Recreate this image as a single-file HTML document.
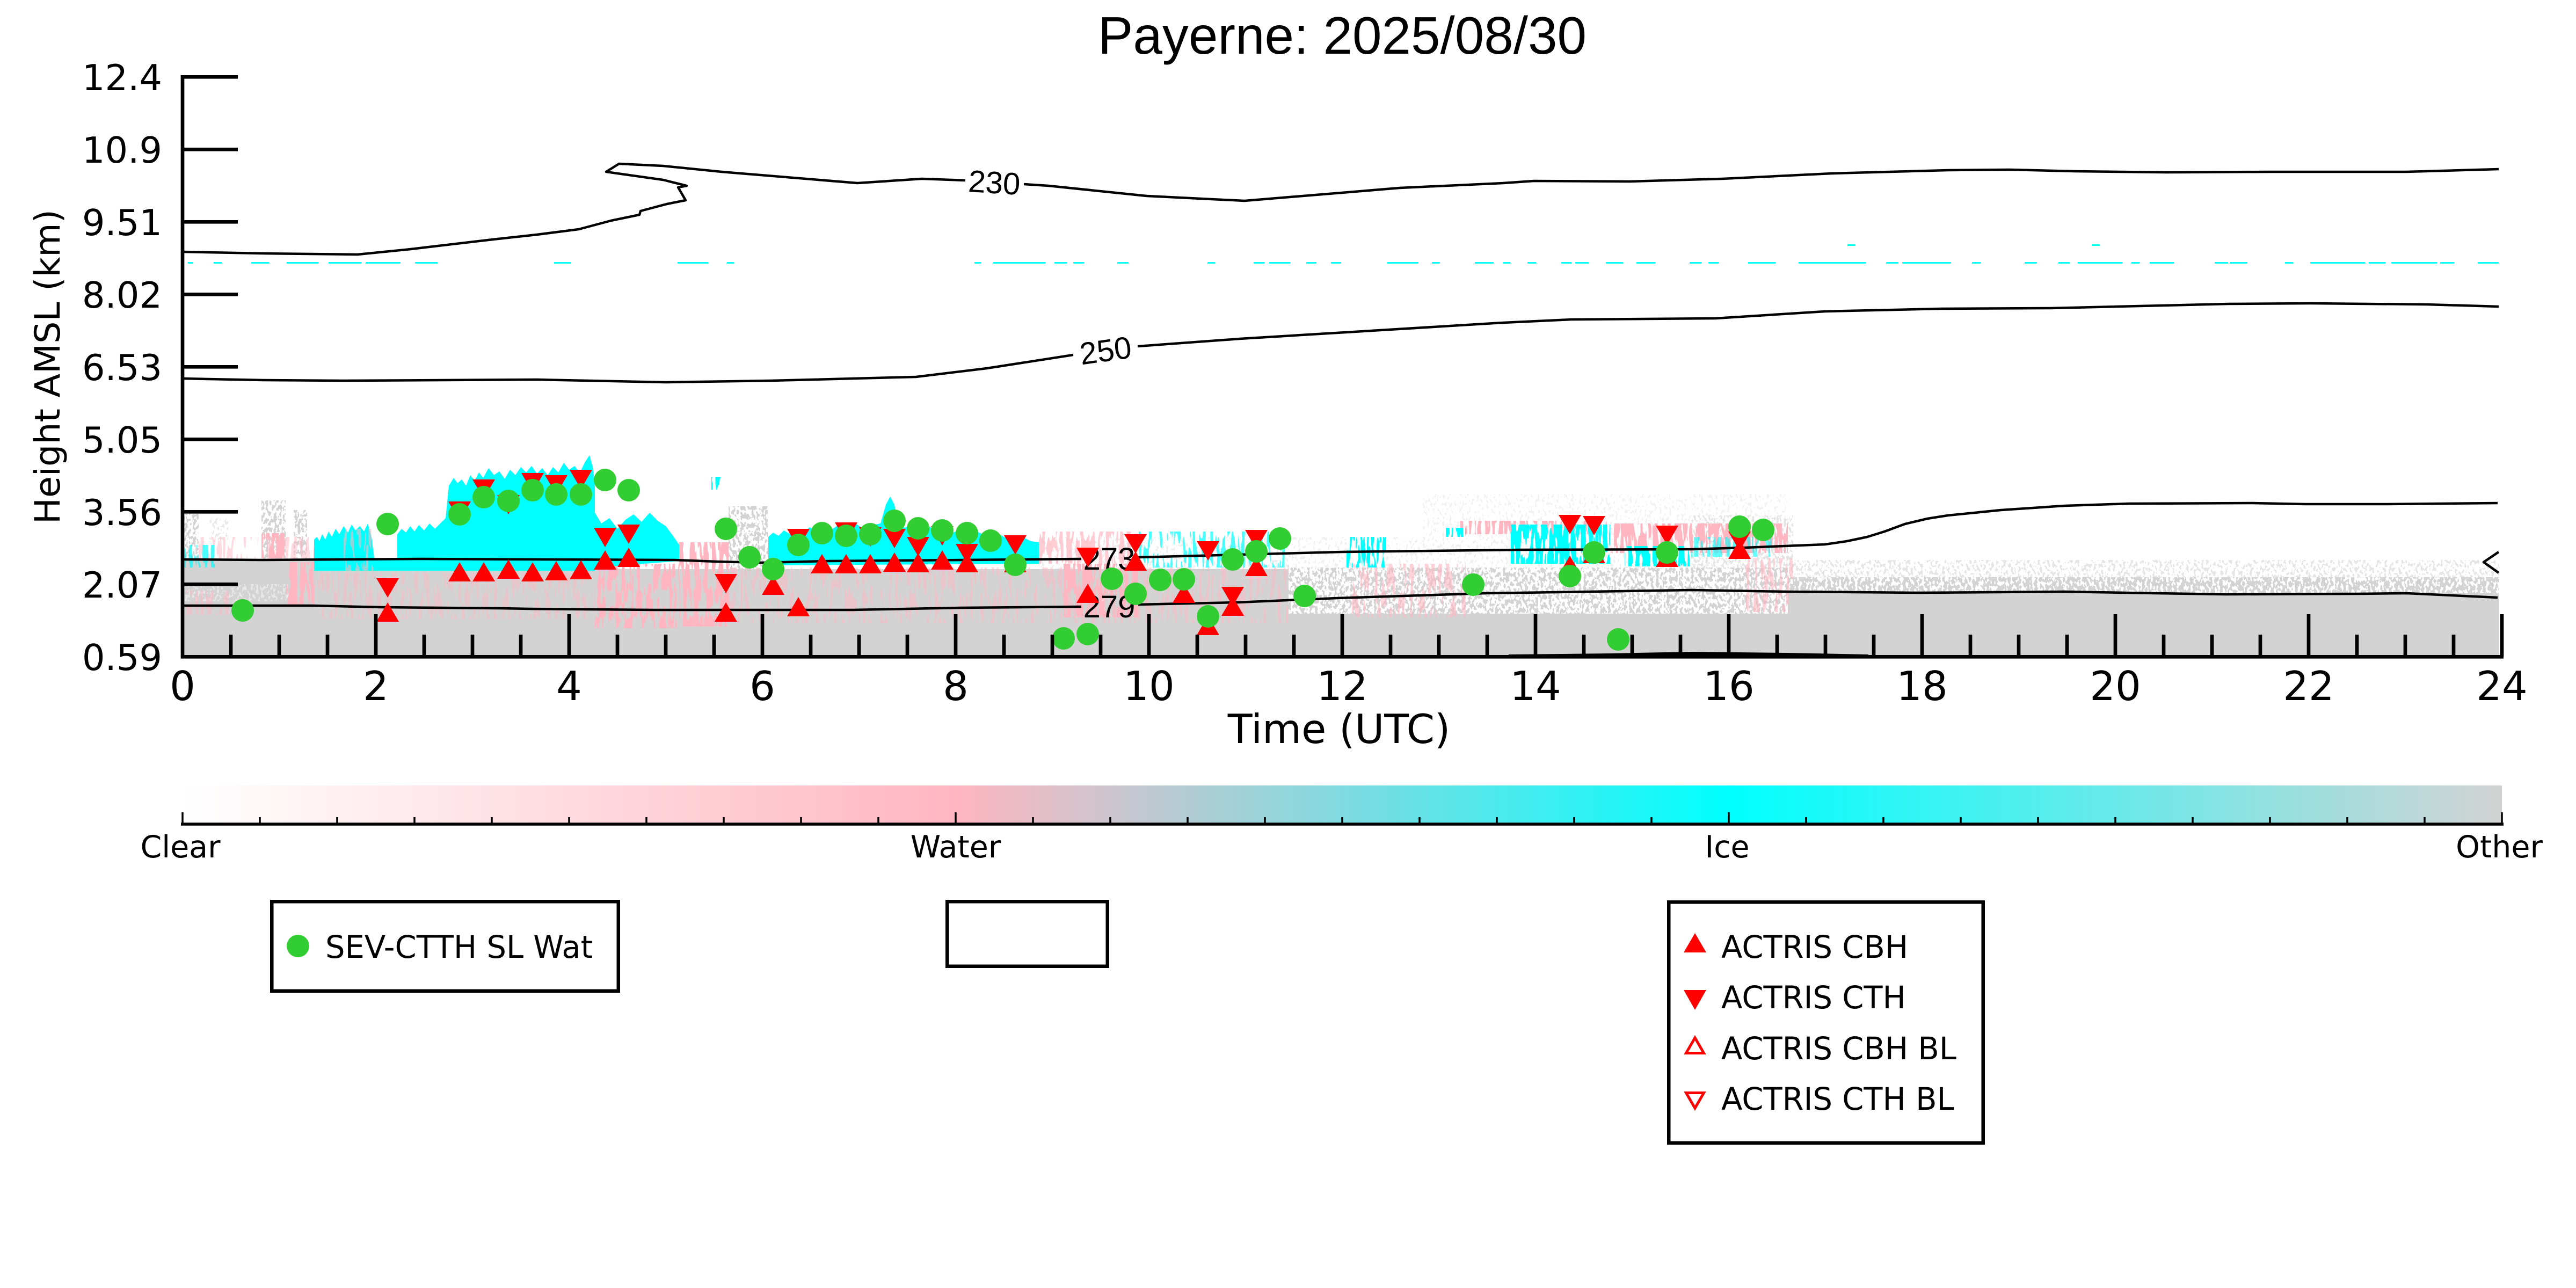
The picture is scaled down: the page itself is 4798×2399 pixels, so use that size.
<!DOCTYPE html>
<html><head><meta charset="utf-8"><title>Payerne: 2025/08/30</title>
<style>html,body{margin:0;padding:0;background:#fff;}svg{display:block}</style></head>
<body>
<svg width="4798" height="2399" viewBox="0 0 4798 2399" xmlns="http://www.w3.org/2000/svg">
<defs>
<linearGradient id="cb" x1="0" x2="1" y1="0" y2="0">
<stop offset="0" stop-color="#ffffff"/><stop offset="0.3333" stop-color="#ffb6c1"/><stop offset="0.6667" stop-color="#00ffff"/><stop offset="1" stop-color="#d3d3d3"/>
</linearGradient>
<filter id="gA" x="0" y="0" width="1" height="1" color-interpolation-filters="sRGB"><feTurbulence type="fractalNoise" baseFrequency="0.2 0.12" numOctaves="2" seed="3"/><feColorMatrix type="matrix" values="0 0 0 0 0 0 0 0 0 0 0 0 0 0 0 40 0 0 0 -18"/><feComposite in="SourceGraphic" operator="in"/></filter>
<filter id="gB" x="0" y="0" width="1" height="1" color-interpolation-filters="sRGB"><feTurbulence type="fractalNoise" baseFrequency="0.2 0.12" numOctaves="2" seed="11"/><feColorMatrix type="matrix" values="0 0 0 0 0 0 0 0 0 0 0 0 0 0 0 40 0 0 0 -20"/><feComposite in="SourceGraphic" operator="in"/></filter>
<filter id="gC" x="0" y="0" width="1" height="1" color-interpolation-filters="sRGB"><feTurbulence type="fractalNoise" baseFrequency="0.22 0.14" numOctaves="2" seed="21"/><feColorMatrix type="matrix" values="0 0 0 0 0 0 0 0 0 0 0 0 0 0 0 40 0 0 0 -22"/><feComposite in="SourceGraphic" operator="in"/></filter>
<filter id="gD" x="0" y="0" width="1" height="1" color-interpolation-filters="sRGB"><feTurbulence type="fractalNoise" baseFrequency="0.22 0.14" numOctaves="2" seed="29"/><feColorMatrix type="matrix" values="0 0 0 0 0 0 0 0 0 0 0 0 0 0 0 40 0 0 0 -24"/><feComposite in="SourceGraphic" operator="in"/></filter>
<filter id="sA" x="0" y="0" width="1" height="1" color-interpolation-filters="sRGB"><feTurbulence type="fractalNoise" baseFrequency="0.15 0.02" numOctaves="2" seed="17"/><feColorMatrix type="matrix" values="0 0 0 0 0 0 0 0 0 0 0 0 0 0 0 40 0 0 0 -16.8"/><feComposite in="SourceGraphic" operator="in"/></filter>
<filter id="sB" x="0" y="0" width="1" height="1" color-interpolation-filters="sRGB"><feTurbulence type="fractalNoise" baseFrequency="0.15 0.02" numOctaves="2" seed="13"/><feColorMatrix type="matrix" values="0 0 0 0 0 0 0 0 0 0 0 0 0 0 0 40 0 0 0 -18"/><feComposite in="SourceGraphic" operator="in"/></filter>
<filter id="sC" x="0" y="0" width="1" height="1" color-interpolation-filters="sRGB"><feTurbulence type="fractalNoise" baseFrequency="0.15 0.02" numOctaves="2" seed="8"/><feColorMatrix type="matrix" values="0 0 0 0 0 0 0 0 0 0 0 0 0 0 0 40 0 0 0 -20"/><feComposite in="SourceGraphic" operator="in"/></filter>
<filter id="sD" x="0" y="0" width="1" height="1" color-interpolation-filters="sRGB"><feTurbulence type="fractalNoise" baseFrequency="0.15 0.02" numOctaves="2" seed="5"/><feColorMatrix type="matrix" values="0 0 0 0 0 0 0 0 0 0 0 0 0 0 0 40 0 0 0 -21.2"/><feComposite in="SourceGraphic" operator="in"/></filter>
<filter id="sE" x="0" y="0" width="1" height="1" color-interpolation-filters="sRGB"><feTurbulence type="fractalNoise" baseFrequency="0.15 0.02" numOctaves="2" seed="31"/><feColorMatrix type="matrix" values="0 0 0 0 0 0 0 0 0 0 0 0 0 0 0 40 0 0 0 -22.4"/><feComposite in="SourceGraphic" operator="in"/></filter>
</defs>
<rect width="4798" height="2399" fill="#ffffff"/>

<!-- solid gray base -->
<polygon fill="#d3d3d3" points="340,1043 585,1043 585,1063 1108,1063 1108,1060 2400,1060 2400,1143 3330,1143 3330,1105 4655,1105 4655,1220 340,1220"/>
<rect x="340" y="1088" width="200" height="32" fill="#ffffff" fill-opacity="0.45" filter="url(#gC)"/>

<!-- mixed gray speckle -->
<g fill="#d3d3d3">
<rect x="2400" y="1057" width="930" height="86" filter="url(#gB)"/>
<rect x="3330" y="1075" width="1325" height="30" filter="url(#gA)"/>
<rect x="343" y="957" width="27" height="86" filter="url(#gB)"/>
<rect x="487" y="932" width="45" height="111" filter="url(#gB)"/>
<rect x="547" y="950" width="25" height="93" filter="url(#gB)"/>
<rect x="1357" y="943" width="73" height="117" filter="url(#gB)"/>
<rect x="3150" y="960" width="190" height="100" fill-opacity="0.6" filter="url(#gC)"/>
<rect x="390" y="965" width="35" height="40" fill-opacity="0.5" filter="url(#gC)"/>
<rect x="2650" y="920" width="680" height="80" fill-opacity="0.3" filter="url(#gD)"/>
<rect x="3330" y="1043" width="1325" height="32" fill-opacity="0.6" filter="url(#gC)"/>
<rect x="2400" y="1000" width="930" height="57" fill-opacity="0.35" filter="url(#gD)"/>
<rect x="1935" y="1000" width="465" height="60" fill-opacity="0.4" filter="url(#gD)"/>
</g>

<!-- pink streaks -->
<g fill="#ffb6c1">
<rect x="370" y="1000" width="215" height="45" fill-opacity="0.5" filter="url(#sD)"/>
<rect x="340" y="1100" width="90" height="45" fill-opacity="0.5" filter="url(#sD)"/>
<rect x="585" y="1067" width="523" height="86" fill-opacity="0.45" filter="url(#sD)"/>
<rect x="1357" y="1057" width="1043" height="103" fill-opacity="0.5" filter="url(#sE)"/>
<rect x="2518" y="1050" width="212" height="100" fill-opacity="0.6" filter="url(#sD)"/>
<rect x="2720" y="970" width="280" height="25" filter="url(#sC)"/>
<rect x="3250" y="1040" width="90" height="100" fill-opacity="0.6" filter="url(#sD)"/>
<rect x="487" y="993" width="43" height="47" filter="url(#sB)"/>
<rect x="533" y="1047" width="52" height="80" filter="url(#sB)"/>
<rect x="1265" y="1010" width="92" height="157" filter="url(#sB)"/>
<rect x="1981" y="1050" width="139" height="100" filter="url(#sB)"/>
<rect x="3000" y="975" width="330" height="55" filter="url(#sB)"/>
<rect x="1108" y="1050" width="157" height="120" filter="url(#sC)"/>
<rect x="1935" y="990" width="175" height="60" fill-opacity="0.7" filter="url(#sC)"/>
</g>

<!-- cyan -->
<g fill="#00ffff">
<rect x="343" y="1015" width="57" height="42" fill-opacity="0.7" filter="url(#sC)"/>
<polygon points="585,1063 585,1005 590,1000 595,1008 600,995 606,1005 612,990 618,1000 625,985 632,995 640,980 648,992 655,977 662,988 670,980 678,990 685,975 692,1000 697,1040 740,1040 740,995 748,985 756,992 764,980 772,990 780,978 790,988 800,975 810,985 820,975 830,965 836,905 845,890 852,900 860,893 868,905 876,885 884,895 892,880 900,890 910,872 920,885 930,878 940,892 950,875 960,885 970,870 980,880 990,868 1000,882 1010,872 1020,885 1030,870 1040,880 1050,862 1060,875 1070,868 1080,880 1090,860 1098,848 1104,870 1108,900 1108,955 1120,975 1135,965 1150,985 1165,968 1180,958 1195,972 1210,955 1225,970 1240,980 1255,1000 1265,1015 1265,1045 1108,1057 1108,1063"/>
<rect x="1325" y="888" width="18" height="24" filter="url(#sB)"/>
<polygon points="1431,1053 1431,1000 1440,992 1450,998 1460,988 1472,995 1484,985 1496,992 1508,982 1520,990 1535,978 1550,986 1565,975 1580,984 1595,976 1610,986 1625,978 1640,975 1650,940 1658,925 1666,940 1672,975 1685,983 1700,976 1715,985 1730,980 1745,990 1760,983 1775,992 1790,986 1805,995 1820,990 1840,1000 1860,995 1880,1005 1900,998 1920,1008 1935,1010 1935,1050"/>
<rect x="2120" y="990" width="280" height="67" fill-opacity="0.7" filter="url(#sD)"/>
<rect x="2508" y="1000" width="74" height="57" filter="url(#sC)"/>
<rect x="2693" y="983" width="37" height="17" filter="url(#sC)"/>
<rect x="2814" y="977" width="185" height="73" filter="url(#sA)"/>
<rect x="3026" y="1017" width="121" height="38" filter="url(#sB)"/>
<rect x="3150" y="1000" width="150" height="37" fill-opacity="0.6" filter="url(#sD)"/>
</g>
<rect x="640" y="985" width="55" height="78" fill="#ffb6c1" fill-opacity="0.6" filter="url(#sD)"/>

<!-- cyan dashes high cloud -->
<path fill="none" stroke="#00ffff" stroke-width="3" d="M350 489.5H360M398 489.5H413M468 489.5H501M534 489.5H593M612 489.5H673M681 489.5H746M773 489.5H815M1032 489.5H1064M1262 489.5H1319M1354 489.5H1367M1815 489.5H1827M1850 489.5H1947M1964 489.5H1987M1999 489.5H2019M2081 489.5H2102M2249 489.5H2263M2335 489.5H2355M2364 489.5H2403M2433 489.5H2452M2479 489.5H2498M2584 489.5H2642M2667 489.5H2682M2747 489.5H2782M2800 489.5H2813M2845 489.5H2861M2908 489.5H2927M2934 489.5H2959M2991 489.5H3023M3048 489.5H3083M3147 489.5H3169M3182 489.5H3201M3256 489.5H3307M3350 489.5H3475M3513 489.5H3536M3543 489.5H3634M3673 489.5H3689M3771 489.5H3794M3834 489.5H3855M3870 489.5H3953M3970 489.5H3985M4004 489.5H4049M4125 489.5H4150M4153 489.5H4186M4256 489.5H4271M4303 489.5H4405M4412 489.5H4443M4454 489.5H4539M4545 489.5H4571M4615 489.5H4654M3441 456.5H3456M3896 456.5H3911"/>

<!-- contours -->
<g fill="none" stroke="#000" stroke-width="4.5" stroke-linejoin="round">
<polyline points="340,469 490,472 666,474 765,464 918,446 1000,437 1078,427 1138,411 1191,400 1193,393 1242,380 1277,373 1263,349 1279,346 1235,335 1129,320 1153,305 1235,309 1344,320 1597,341 1717,333 1798,336"/>
<polyline points="1907,343 1953,346 2136,365 2318,374 2607,350 2800,341 2857,337 3036,338 3208,333 3412,323 3628,317 3743,316 3864,319 4036,321 4227,320 4482,320 4654,315"/>
<polyline points="340,705 490,708 643,709 1000,707 1241,712 1436,709 1706,702 1838,686 1999,661"/>
<polyline points="2119,645 2309,631 2800,601 2927,595 3195,593 3399,580 3615,575 3819,574 4151,566 4303,565 4520,567 4654,571"/>
<polyline points="340,1042 488,1043 784,1041 1256,1043 1335,1046 1422,1048 1542,1045 1790,1043 2014,1041"/>
<polyline points="2120,1038 2499,1028 2832,1024 3150,1023 3250,1020 3399,1014 3440,1008 3478,1000 3510,990 3548,976 3590,966 3628,960 3727,950 3846,942 3966,938 4195,937 4294,939 4443,939 4652,937"/>
<polyline points="340,1128 580,1128 710,1131 932,1133 987,1134 1218,1136 1588,1136 1790,1132 2014,1130"/>
<polyline points="2120,1126 2305,1122 2490,1114 2767,1105 3150,1099 3329,1102 3578,1104 3846,1102 4016,1105 4145,1107 4394,1106 4483,1105 4652,1113"/>
<polyline points="4654,1028 4626,1047 4654,1067"/>
<polyline stroke-width="6" points="2810,1222 3000,1220 3150,1217 3330,1219 3480,1222"/>
</g>
<g font-family="'Liberation Sans', Arial, sans-serif" font-size="58" fill="#000" text-anchor="middle">
<text x="1852" y="360" transform="rotate(3.5 1852 340)">230</text>
<text x="2059" y="673" transform="rotate(-8 2059 652)">250</text>
<text x="2066" y="1061">273</text>
<text x="2066" y="1150">279</text>
</g>

<!-- markers: triangles -->
<g fill="#ff0000">
<polygon points="722,1122 701,1158 743,1158"/><polygon points="856,1047 835,1083 877,1083"/><polygon points="901,1047 880,1083 922,1083"/><polygon points="947,1042 926,1078 968,1078"/><polygon points="992,1047 971,1083 1013,1083"/><polygon points="1036,1045 1015,1081 1057,1081"/><polygon points="1082,1043 1061,1079 1103,1079"/><polygon points="1127,1025 1106,1061 1148,1061"/><polygon points="1171,1020 1150,1056 1192,1056"/><polygon points="1352,1122 1331,1158 1373,1158"/><polygon points="1440,1072 1419,1108 1461,1108"/><polygon points="1487,1112 1466,1148 1508,1148"/><polygon points="1531,1032 1510,1068 1552,1068"/><polygon points="1576,1032 1555,1068 1597,1068"/><polygon points="1621,1032 1600,1068 1642,1068"/><polygon points="1666,1029 1645,1065 1687,1065"/><polygon points="1710,1030 1689,1066 1731,1066"/><polygon points="1755,1025 1734,1061 1776,1061"/><polygon points="1801,1030 1780,1066 1822,1066"/><polygon points="1891,1030 1870,1066 1912,1066"/><polygon points="2026,1087 2005,1123 2047,1123"/><polygon points="2115,1027 2094,1063 2136,1063"/><polygon points="2205,1087 2184,1123 2226,1123"/><polygon points="2250,1147 2229,1183 2271,1183"/><polygon points="2296,1111 2275,1147 2317,1147"/><polygon points="2340,1037 2319,1073 2361,1073"/><polygon points="2924,1035 2903,1071 2945,1071"/><polygon points="2969,1013 2948,1049 2990,1049"/><polygon points="3105,1020 3084,1056 3126,1056"/><polygon points="3240,1005 3219,1041 3261,1041"/>
<polygon points="701,1077 743,1077 722,1113"/><polygon points="835,934 877,934 856,970"/><polygon points="880,893 922,893 901,929"/><polygon points="926,922 968,922 947,958"/><polygon points="971,881 1013,881 992,917"/><polygon points="1015,885 1057,885 1036,921"/><polygon points="1061,875 1103,875 1082,911"/><polygon points="1106,983 1148,983 1127,1019"/><polygon points="1150,977 1192,977 1171,1013"/><polygon points="1331,1069 1373,1069 1352,1105"/><polygon points="1466,985 1508,985 1487,1021"/><polygon points="1555,973 1597,973 1576,1009"/><polygon points="1600,982 1642,982 1621,1018"/><polygon points="1645,985 1687,985 1666,1021"/><polygon points="1689,1000 1731,1000 1710,1036"/><polygon points="1734,980 1776,980 1755,1016"/><polygon points="1780,1013 1822,1013 1801,1049"/><polygon points="1870,997 1912,997 1891,1033"/><polygon points="2005,1020 2047,1020 2026,1056"/><polygon points="2094,995 2136,995 2115,1031"/><polygon points="2229,1008 2271,1008 2250,1044"/><polygon points="2275,1093 2317,1093 2296,1129"/><polygon points="2319,987 2361,987 2340,1023"/><polygon points="2903,959 2945,959 2924,995"/><polygon points="2948,961 2990,961 2969,997"/><polygon points="3084,979 3126,979 3105,1015"/><polygon points="3219,990 3261,990 3240,1026"/>
</g>
<!-- circles -->
<g fill="#32cd32">
<circle cx="452" cy="1137" r="21"/><circle cx="722" cy="976" r="21"/><circle cx="856" cy="958" r="21"/><circle cx="901" cy="926" r="21"/><circle cx="947" cy="933" r="21"/><circle cx="992" cy="913" r="21"/><circle cx="1036" cy="921" r="21"/><circle cx="1082" cy="921" r="21"/><circle cx="1127" cy="894" r="21"/><circle cx="1171" cy="913" r="21"/><circle cx="1352" cy="985" r="21"/><circle cx="1396" cy="1038" r="21"/><circle cx="1440" cy="1060" r="21"/><circle cx="1487" cy="1015" r="21"/><circle cx="1531" cy="993" r="21"/><circle cx="1576" cy="998" r="21"/><circle cx="1621" cy="995" r="21"/><circle cx="1666" cy="970" r="21"/><circle cx="1710" cy="984" r="21"/><circle cx="1755" cy="988" r="21"/><circle cx="1801" cy="993" r="21"/><circle cx="1845" cy="1007" r="21"/><circle cx="1891" cy="1052" r="21"/><circle cx="1981" cy="1189" r="21"/><circle cx="2026" cy="1181" r="21"/><circle cx="2071" cy="1078" r="21"/><circle cx="2115" cy="1106" r="21"/><circle cx="2161" cy="1080" r="21"/><circle cx="2205" cy="1079" r="21"/><circle cx="2250" cy="1148" r="21"/><circle cx="2296" cy="1042" r="21"/><circle cx="2340" cy="1027" r="21"/><circle cx="2384" cy="1003" r="21"/><circle cx="2430" cy="1110" r="21"/><circle cx="2744" cy="1089" r="21"/><circle cx="2924" cy="1073" r="21"/><circle cx="2969" cy="1029" r="21"/><circle cx="3014" cy="1191" r="21"/><circle cx="3105" cy="1029" r="21"/><circle cx="3240" cy="981" r="21"/><circle cx="3284" cy="987" r="21"/>
</g>

<!-- axes -->
<g stroke="#000" fill="none">
<path stroke-width="6.7" d="M340 140V1226.6M336.7 1223.3H4663"/>
<path stroke-width="6.7" d="M340 143.3H443M340 278.3H443M340 413.3H443M340 548.3H443M340 683.3H443M340 818.3H443M340 953.3H443M340 1088.3H443"/>
<path stroke-width="6.7" d="M700 1223V1144M1060 1223V1144M1420 1223V1144M1780 1223V1144M2140 1223V1144M2500 1223V1144M2860 1223V1144M3220 1223V1144M3580 1223V1144M3940 1223V1144M4300 1223V1144M4660 1223V1144"/>
<path stroke-width="6.7" d="M430 1223V1182M520 1223V1182M610 1223V1182M790 1223V1182M880 1223V1182M970 1223V1182M1150 1223V1182M1240 1223V1182M1330 1223V1182M1510 1223V1182M1600 1223V1182M1690 1223V1182M1870 1223V1182M1960 1223V1182M2050 1223V1182M2230 1223V1182M2320 1223V1182M2410 1223V1182M2590 1223V1182M2680 1223V1182M2770 1223V1182M2950 1223V1182M3040 1223V1182M3130 1223V1182M3310 1223V1182M3400 1223V1182M3490 1223V1182M3670 1223V1182M3760 1223V1182M3850 1223V1182M4030 1223V1182M4120 1223V1182M4210 1223V1182M4390 1223V1182M4480 1223V1182M4570 1223V1182"/>
</g>
<g font-family="'DejaVu Sans', sans-serif" font-size="67" fill="#000" text-anchor="end">
<text x="302" y="167.8">12.4</text><text x="302" y="302.8">10.9</text><text x="302" y="437.8">9.51</text><text x="302" y="572.8">8.02</text><text x="302" y="707.8">6.53</text><text x="302" y="842.8">5.05</text><text x="302" y="977.8">3.56</text><text x="302" y="1112.8">2.07</text><text x="302" y="1247.8">0.59</text>
</g>
<g font-family="'DejaVu Sans', sans-serif" font-size="75" fill="#000" text-anchor="middle">
<text x="340" y="1304">0</text><text x="700" y="1304">2</text><text x="1060" y="1304">4</text><text x="1420" y="1304">6</text><text x="1780" y="1304">8</text><text x="2140" y="1304">10</text><text x="2500" y="1304">12</text><text x="2860" y="1304">14</text><text x="3220" y="1304">16</text><text x="3580" y="1304">18</text><text x="3940" y="1304">20</text><text x="4300" y="1304">22</text><text x="4660" y="1304">24</text>
<text x="2494" y="1384">Time (UTC)</text>
</g>
<text x="0" y="0" transform="translate(111 683) rotate(-90)" font-family="'DejaVu Sans', sans-serif" font-size="65" text-anchor="middle" fill="#000">Height AMSL (km)</text>
<text x="2500" y="100" font-family="'Liberation Sans', Arial, sans-serif" font-size="98" text-anchor="middle" fill="#000">Payerne: 2025/08/30</text>

<!-- colorbar -->
<rect x="340" y="1463" width="4320" height="70" fill="url(#cb)"/>
<path stroke="#000" stroke-width="5.5" d="M337 1535H4663"/>
<path stroke="#000" stroke-width="3.5" d="M340 1535V1513M1780 1535V1513M3220 1535V1513M4660 1535V1513M484 1535V1522M628 1535V1522M772 1535V1522M916 1535V1522M1060 1535V1522M1204 1535V1522M1348 1535V1522M1492 1535V1522M1636 1535V1522M1924 1535V1522M2068 1535V1522M2212 1535V1522M2356 1535V1522M2500 1535V1522M2644 1535V1522M2788 1535V1522M2932 1535V1522M3076 1535V1522M3364 1535V1522M3508 1535V1522M3652 1535V1522M3796 1535V1522M3940 1535V1522M4084 1535V1522M4228 1535V1522M4372 1535V1522M4516 1535V1522"/>
<g font-family="'DejaVu Sans', sans-serif" font-size="57" fill="#000" text-anchor="middle">
<text x="336" y="1597">Clear</text><text x="1780" y="1597">Water</text><text x="3217" y="1597">Ice</text><text x="4655" y="1597">Other</text>
</g>

<!-- legends -->
<g fill="#fff" stroke="#000" stroke-width="6.5">
<rect x="506.25" y="1679.25" width="645.5" height="166.5"/>
<rect x="1764.25" y="1679.25" width="298.5" height="120.5"/>
<rect x="3108.25" y="1680.25" width="585.5" height="448.5"/>
</g>
<circle cx="555" cy="1762" r="21" fill="#32cd32"/>
<polygon points="3157,1738 3136,1774 3178,1774" fill="#ff0000"/>
<polygon points="3136,1844 3178,1844 3157,1881" fill="#ff0000"/>
<polygon points="3157,1933 3140.5,1961.5 3173.5,1961.5" fill="#fff" stroke="#ff0000" stroke-width="5"/>
<polygon points="3140.5,2035.5 3173.5,2035.5 3157,2064" fill="#fff" stroke="#ff0000" stroke-width="5"/>
<g font-family="'DejaVu Sans', sans-serif" font-size="57.5" fill="#000">
<text x="606" y="1784">SEV-CTTH SL Wat</text>
<text x="3206" y="1784">ACTRIS CBH</text>
<text x="3206" y="1878">ACTRIS CTH</text>
<text x="3206" y="1973">ACTRIS CBH BL</text>
<text x="3206" y="2067">ACTRIS CTH BL</text>
</g>
</svg>
</body></html>
